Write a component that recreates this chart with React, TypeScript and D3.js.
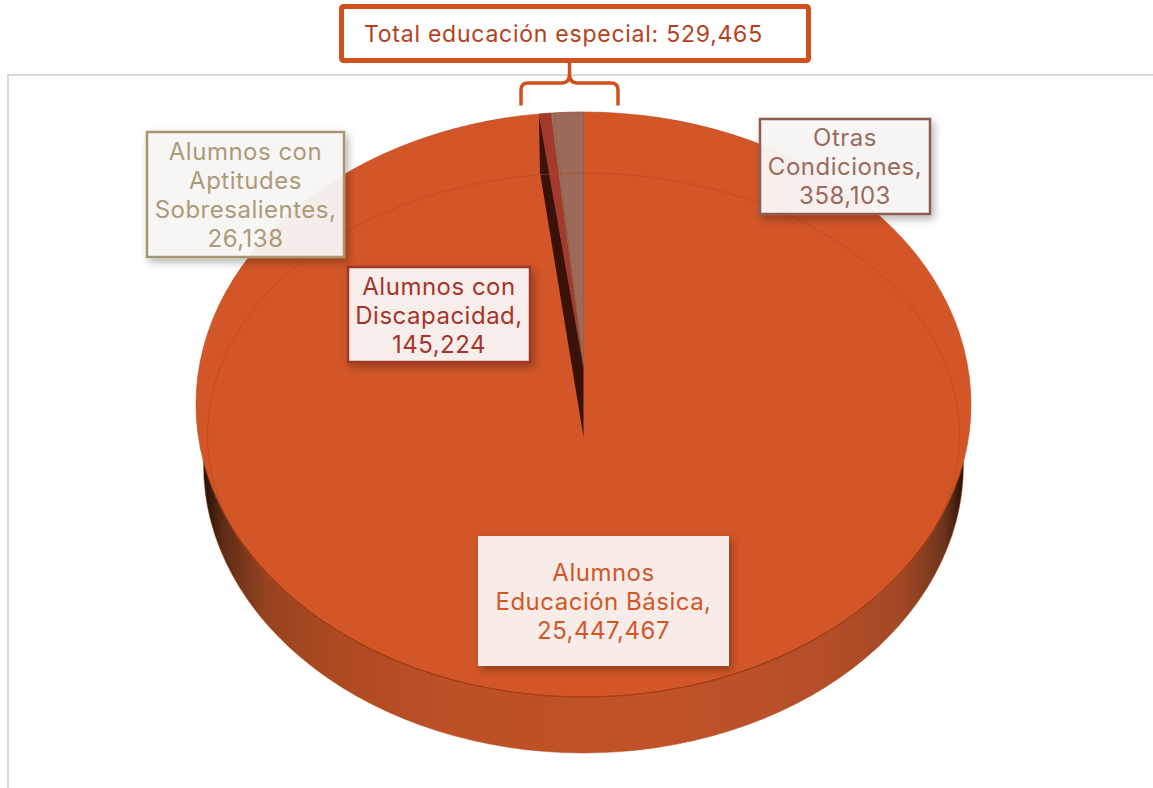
import * as d3 from 'd3';

const categories = ['Alumnos Educación Básica', 'Alumnos con Discapacidad', 'Alumnos con Aptitudes Sobresalientes', 'Otras Condiciones'];
const values = [25447467, 145224, 26138, 358103];
const sliceColors = ['#d25628', '#a53a2c', '#8f8062', '#9b6a5a'];
const labelLines = [
  ['Alumnos', 'Educación Básica,'],
  ['Alumnos con', 'Discapacidad,'],
  ['Alumnos con', 'Aptitudes', 'Sobresalientes,'],
  ['Otras', 'Condiciones,'],
];
const labelBoxes = [
  { x: 478, y: 536, w: 251, h: 130, text: '#d25628', border: 'none', fill: '#f7ece8', first: 581 },
  { x: 348, y: 267, w: 182, h: 95, text: '#a5352a', border: '#a0352a', fill: 'rgba(252,248,248,0.93)', first: 295 },
  { x: 147, y: 132, w: 197, h: 125, text: '#ac9a78', border: '#a8966f', fill: 'rgba(249,248,246,0.93)', first: 160 },
  { x: 760, y: 119, w: 170, h: 95, text: '#9a6a5c', border: '#8f5a50', fill: 'rgba(249,247,246,0.95)', first: 146 },
];
const totalLabel = 'Total educación especial: ';
const totalEspecial = 529465;

const fmt = d3.format(',');
const FONT = 'Inter, "Open Sans", sans-serif';

// pie geometry
const cx = 583.5;
const top = { cy: 404.5, rx: 387.5, ry: 292.5 };
const inner = { cy: 435, rx: 376, ry: 262 };
const bottom = { cy: 465, rx: 380, ry: 288 };
const hub = { y: 367, rx: 349, ry: 255, depth: 70 };

export default function App() {
  const arcs = d3.pie<number>().sort(null)(values);
  const arcPath = d3.arc<d3.PieArcDatum<number>>().innerRadius(0).outerRadius(1);
  const rim = (angle: number): [number, number] => [cx + hub.rx * Math.sin(angle), hub.y - hub.ry * Math.cos(angle)];

  // cut wall of the big slice, seen where the small slices open up
  const p = rim(arcs[0].endAngle);
  const wall = d3.line()([
    p,
    [cx, hub.y],
    [cx, hub.y + hub.depth],
    [p[0] + 1, p[1] + hub.depth - 12],
  ]) + 'Z';

  const brace = d3.path();
  brace.moveTo(521, 105.5);
  brace.lineTo(521, 90);
  brace.quadraticCurveTo(521, 83, 528, 83);
  brace.lineTo(562, 83);
  brace.quadraticCurveTo(569.5, 83, 569.5, 74);
  brace.lineTo(569.5, 61);
  brace.moveTo(569.5, 74);
  brace.quadraticCurveTo(569.5, 83, 577, 83);
  brace.lineTo(611, 83);
  brace.quadraticCurveTo(618, 83, 618, 90);
  brace.lineTo(618, 105.5);

  return (
    <svg width={1153} height={788} style={{ position: 'absolute', left: 0, top: 0 }}>
      <defs>
        <linearGradient id="side" gradientUnits="userSpaceOnUse" x1={196} x2={971} y1={0} y2={0}>
          <stop offset="0.012" stopColor="#2a1208" />
          <stop offset="0.035" stopColor="#5e2c16" />
          <stop offset="0.09" stopColor="#96431f" />
          <stop offset="0.18" stopColor="#ad4a22" />
          <stop offset="0.32" stopColor="#bd5026" />
          <stop offset="0.6" stopColor="#c25228" />
          <stop offset="0.8" stopColor="#b54f29" />
          <stop offset="0.91" stopColor="#a34825" />
          <stop offset="0.965" stopColor="#6e361d" />
          <stop offset="0.99" stopColor="#2a1208" />
        </linearGradient>
        <clipPath id="front">
          <rect x={0} y={470} width={1153} height={318} />
        </clipPath>
        <filter id="shadow" x="-15%" y="-15%" width="135%" height="135%">
          <feDropShadow dx={3} dy={4} stdDeviation={4} floodColor="#000" floodOpacity={0.3} />
        </filter>
      </defs>

      {/* frame */}
      <path d="M8,788V75H1153" fill="none" stroke="#d9d9d9" strokeWidth={2} />

      {/* side */}
      <ellipse cx={cx} cy={bottom.cy} rx={bottom.rx} ry={bottom.ry} fill="url(#side)" stroke="#b5481f" strokeWidth={0.5} />
      {/* top face */}
      <ellipse cx={cx} cy={top.cy} rx={top.rx} ry={top.ry} fill={sliceColors[0]} stroke="#c04c20" strokeWidth={0.6} />
      <ellipse cx={cx} cy={top.cy} rx={top.rx} ry={top.ry} fill="none" stroke="#8f3a15" strokeWidth={1} clipPath="url(#front)" />

      {/* small slices */}
      <path d={wall} fill="#3a120a" />
      <g transform={`translate(${cx},${hub.y}) scale(${hub.rx},${hub.ry})`}>
        {arcs.slice(1).map((a, i) => (
          <path key={categories[i + 1]} d={arcPath(a)!} fill={sliceColors[i + 1]} stroke="#7a4a3a" strokeWidth={0.5} strokeOpacity={0.5} vectorEffect="non-scaling-stroke" />
        ))}
      </g>

      <ellipse cx={cx} cy={inner.cy} rx={inner.rx} ry={inner.ry} fill="none" stroke="#b8441a" strokeWidth={0.8} strokeOpacity={0.7} />

      {/* labels */}
      {labelBoxes.map((b, i) => {
        const lines = [...labelLines[i], fmt(values[i])];
        return (
          <g key={categories[i]}>
            <rect x={b.x} y={b.y} width={b.w} height={b.h} fill={b.fill} stroke={b.border} strokeWidth={2.5} filter="url(#shadow)" />
            <text fontFamily={FONT} fontSize={24} letterSpacing={0.5} fill={b.text} textAnchor="middle">
              {lines.map((l, k) => (
                <tspan key={k} x={b.x + b.w / 2} y={b.first + k * 29}>{l}</tspan>
              ))}
            </text>
          </g>
        );
      })}

      {/* total callout */}
      <path d={brace.toString()} fill="none" stroke="#d24f1c" strokeWidth={3.5} />
      <rect x={341.5} y={6.5} width={467} height={54} rx={2} fill="#fff" stroke="#d24f1c" strokeWidth={5} />
      <text x={364} y={42} fontFamily={FONT} fontSize={23} letterSpacing={0.75} fill="#b5401c">
        {totalLabel + fmt(totalEspecial)}
      </text>
    </svg>
  );
}
